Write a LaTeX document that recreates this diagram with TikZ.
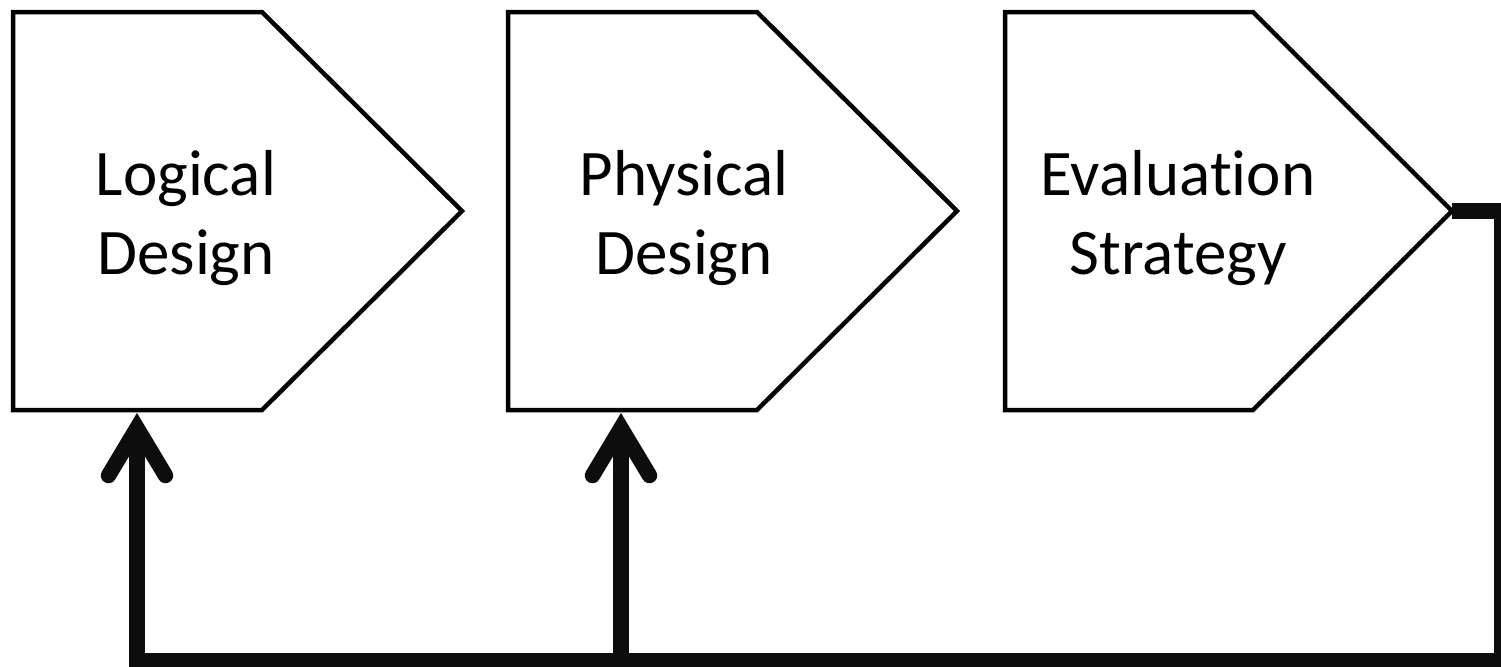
\documentclass[tikz,border=0pt]{standalone}
\usepackage{fontspec}
\setmainfont{Carlito}[RawFeature=-liga]
\usetikzlibrary{calc}
\begin{document}
\begin{tikzpicture}[x=0.5pt,y=-0.5pt,
  boxline/.style={draw=black,line width=2.25pt,line join=miter,fill=white},
  fb/.style={draw=black!95,line width=7.75pt,line join=miter,line cap=butt},
  barb/.style={draw=black!95,line width=7.75pt,line join=miter,line cap=round},
  lbl/.style={font=\fontsize{32.5}{39.5}\selectfont,align=center,anchor=base,inner sep=0pt}]
\useasboundingbox (0,0) rectangle (1501,666);
% boxes
\draw[boxline] (13,12) -- (262,12) -- (462,211) -- (262,410) -- (13,410) -- cycle;
\draw[boxline] (508,12) -- (757,12) -- (957,211) -- (757,410) -- (508,410) -- cycle;
\draw[boxline] (1005,12) -- (1253,12) -- (1452,211) -- (1253,410) -- (1005,410) -- cycle;
\node[lbl] (t1) at (186,274) {Logical\\Design};
\node[lbl] (t2) at (684,274) {Physical\\Design};
\node[lbl] (t3) at (1178,274) {Evaluation\\Strategy};
\coordinate (out3) at (1452,211);
\coordinate (c1) at (1501.5,211);
\coordinate (c2) at (1501.5,660.5);
\coordinate (m) at (621,660.5);
\coordinate (j1) at (137,428);
\coordinate (j2) at (621,428);
% feedback connectors
\draw[fb] (out3) -- (c1) -- (c2) -| (j1);
\draw[fb] (m) -- (j2);
\draw[barb] ($(j1)+(-28.5,47.5)$) -- (j1) -- ($(j1)+(28.5,47.5)$);
\draw[barb] ($(j2)+(-28.5,47.5)$) -- (j2) -- ($(j2)+(28.5,47.5)$);
\end{tikzpicture}
\end{document}
